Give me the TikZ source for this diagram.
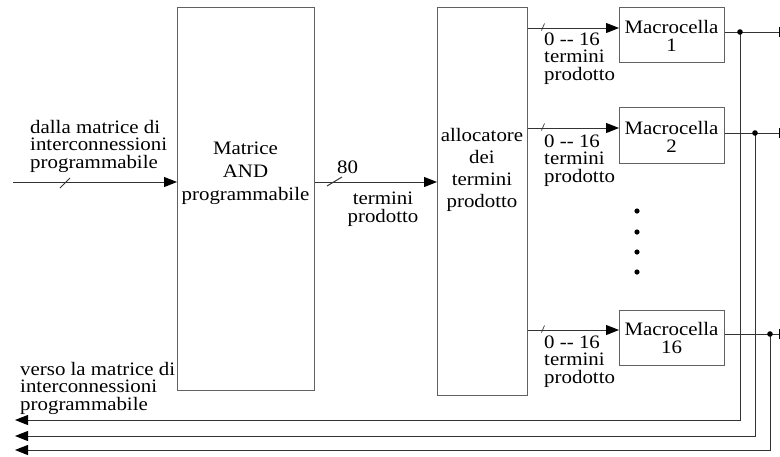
\documentclass[tikz,border=0pt]{standalone}
\usepackage{fontspec}
\setmainfont[FakeStretch=1.1]{Liberation Serif}
\usetikzlibrary{arrows.meta}
\begin{document}
\begin{tikzpicture}[x=1pt,y=-1pt,
  font=\fontsize{19}{17.5}\selectfont,
  boxst/.style={draw=black!62,line width=1.1pt,rectangle,inner sep=0pt,anchor=north west},
  wire/.style={draw=black!80,line width=1pt},
  arr/.style={wire,-{Triangle[length=13pt,width=10pt,color=black]}},
  lbl/.style={inner sep=0pt,anchor=base west,align=left},
  ctr/.style={inner sep=0pt,anchor=base,align=center},
  dotst/.style={fill=black}]
\useasboundingbox (0,0) rectangle (780,456);
% main boxes
\node[boxst,minimum width=137pt,minimum height=383pt] (and) at (177,7) {};
\node[boxst,minimum width=90pt,minimum height=388pt] (alloc) at (437,7) {};
\node[ctr,font=\fontsize{19}{23}\selectfont] (andtxt) at (245.5,200) {Matrice\\AND\\programmabile};
\node[ctr,font=\fontsize{19}{22}\selectfont] (alloctxt) at (482,207) {allocatore\\dei\\termini\\prodotto};
% macrocells
\node[boxst,minimum width=105pt,minimum height=55pt] (mc1) at (619,7) {};
\node[boxst,minimum width=105pt,minimum height=56pt] (mc2) at (619,107) {};
\node[boxst,minimum width=105pt,minimum height=55pt] (mc16) at (619,310) {};
\node[ctr] (mc1t) at (671.5,51) {Macrocella\\1};
\node[ctr] (mc2t) at (671.5,152) {Macrocella\\2};
\node[ctr] (mc16t) at (671.5,353) {Macrocella\\16};
% input
\coordinate (inS) at (13,182);
\draw[arr] (inS) -- (inS -| and.west);
\draw[wire] (60,188) -- (70,178);
\node[lbl] (inlbl) at (30,168) {dalla matrice di\\interconnessioni\\programmabile};
% 80 product terms
\coordinate (p80) at (0,182);
\draw[arr] (and.east |- p80) -- (alloc.west |- p80);
\draw[wire] (327,186) -- (342,177);
\node[lbl] (l80) at (337,173) {80};
\node[ctr] (l80b) at (383,222) {termini\\prodotto};
% allocator to macrocells
\coordinate (a1) at (0,28);
\coordinate (a2) at (0,128);
\coordinate (a16) at (0,330);
\draw[arr] (alloc.east |- a1) -- (mc1.west |- a1);
\draw[arr] (alloc.east |- a2) -- (mc2.west |- a2);
\draw[arr] (alloc.east |- a16) -- (mc16.west |- a16);
\draw[wire,line width=0.7pt] (541.5,30.5) -- (544.5,23.5);
\draw[wire,line width=0.7pt] (541.5,130.5) -- (544.5,123.5);
\draw[wire,line width=0.7pt] (541.5,332.5) -- (544.5,325.5);
\node[lbl] (t1) at (544,80) {0 -{}- 16\\termini\\prodotto};
\node[lbl] (t2) at (544,182) {0 -{}- 16\\termini\\prodotto};
\node[lbl] (t16) at (544,383) {0 -{}- 16\\termini\\prodotto};
% vertical dots
\foreach \yy in {211,232,252,272} \fill[dotst] (637,\yy) circle (2.6pt);
% outputs
\coordinate (o1) at (792,32);
\coordinate (o2) at (792,133);
\coordinate (o16) at (792,334);
\coordinate (d1) at (740,32);
\coordinate (d2) at (755,133);
\coordinate (d16) at (770,334);
\coordinate (r1) at (15,420);
\coordinate (r2) at (15,436);
\coordinate (r16) at (15,450);
\draw[arr] (mc1.east |- o1) -- (o1);
\draw[arr] (mc2.east |- o2) -- (o2);
\draw[arr] (mc16.east |- o16) -- (o16);
\draw[arr] (d1) |- (r1);
\draw[arr] (d2) |- (r2);
\draw[arr] (d16) |- (r16);
\fill[dotst] (d1) circle (2.8pt);
\fill[dotst] (d2) circle (2.8pt);
\fill[dotst] (d16) circle (2.8pt);
\node[lbl] (outlbl) at (20,410) {verso la matrice di\\interconnessioni\\programmabile};
\end{tikzpicture}
\end{document}
